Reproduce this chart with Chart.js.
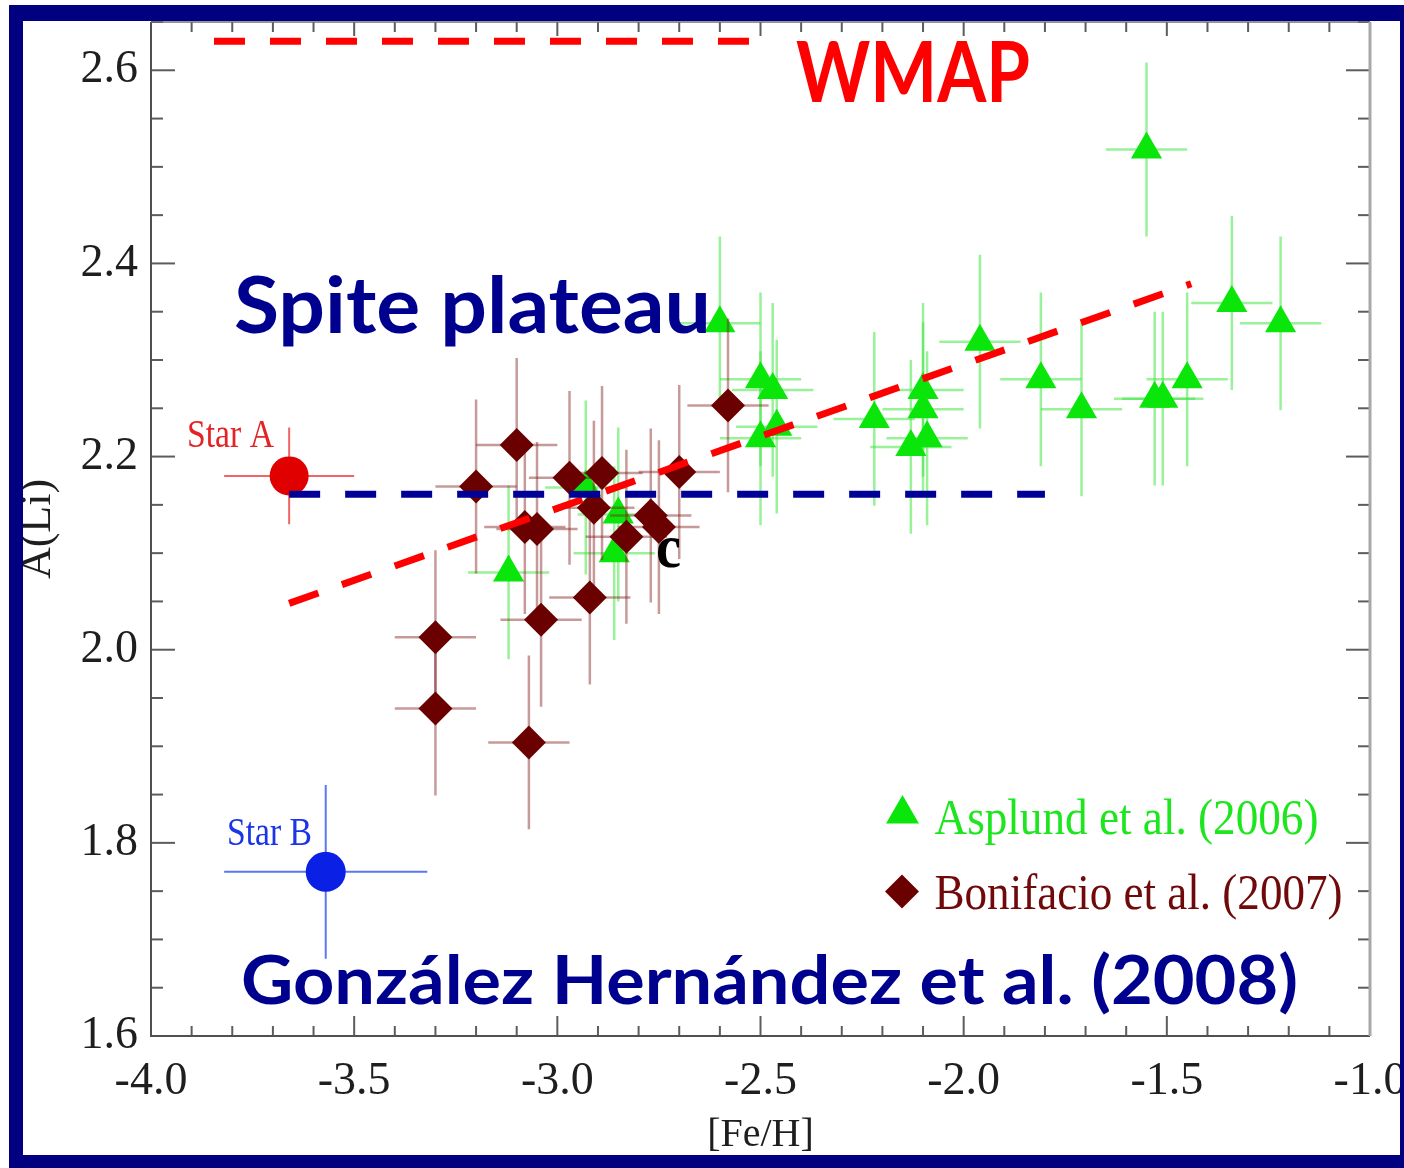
<!DOCTYPE html>
<html>
<head>
<meta charset="utf-8">
<title>A(Li) versus [Fe/H]</title>
<script src="https://cdn.jsdelivr.net/npm/chart.js@4.4.1/dist/chart.umd.min.js"></script>
<style>
  html, body { margin: 0; padding: 0; background: #ffffff; }
  canvas { display: block; }
</style>
</head>
<body>
<canvas id="chart" width="1404" height="1168"></canvas>
<script>
// ---- data -----------------------------------------------------------------
// Asplund et al. (2006)
const asplundFeH = [-3.12, -2.93, -2.85, -2.86, -2.60, -2.50, -2.47, -2.50, -2.46, -2.22,
                    -2.10, -2.10, -2.09, -2.13, -1.96, -1.81, -1.71, -1.55, -1.53, -1.51,
                    -1.45, -1.34, -1.22];
const asplundALi = [2.080, 2.168, 2.140, 2.100, 2.338, 2.280, 2.269, 2.219, 2.231, 2.239,
                    2.269, 2.249, 2.219, 2.210, 2.319, 2.280, 2.249, 2.518, 2.260, 2.260,
                    2.280, 2.359, 2.338];
const asplundErrFeH = [0.10, 0.10, 0.10, 0.10, 0.10, 0.10, 0.10, 0.10, 0.10, 0.10,
                       0.10, 0.10, 0.10, 0.10, 0.10, 0.10, 0.10, 0.10, 0.10, 0.10,
                       0.10, 0.10, 0.10];
const asplundErrALi = [0.09, 0.09, 0.09, 0.09, 0.09, 0.09, 0.09, 0.09, 0.09, 0.09,
                       0.09, 0.09, 0.09, 0.09, 0.09, 0.09, 0.09, 0.09, 0.09, 0.09,
                       0.09, 0.09, 0.09];

// Bonifacio et al. (2007)
const bonifacioFeH = [-3.30, -3.30, -3.20, -3.10, -3.08, -3.07, -3.05, -3.04, -2.97, -2.92,
                      -2.91, -2.89, -2.83, -2.77, -2.75, -2.70, -2.58];
const bonifacioALi = [2.013, 1.939, 2.169, 2.212, 2.127, 1.904, 2.125, 2.031, 2.178, 2.054,
                      2.147, 2.183, 2.117, 2.139, 2.127, 2.184, 2.253];
const bonifacioErrFeH = [0.10, 0.10, 0.10, 0.10, 0.10, 0.10, 0.10, 0.10, 0.10, 0.10,
                         0.10, 0.10, 0.10, 0.10, 0.10, 0.10, 0.10];
const bonifacioErrALi = [0.09, 0.09, 0.09, 0.09, 0.09, 0.09, 0.09, 0.09, 0.09, 0.09,
                         0.09, 0.09, 0.09, 0.09, 0.09, 0.09, 0.09];

// González Hernández et al. (2008): the two components
const starFeH = [-3.66, -3.57];
const starALi = [2.18, 1.77];
const starErrFeH = [0.16, 0.25];
const starErrALi = [0.05, 0.09];
const starNames = ['Star A', 'Star B'];

// reference levels
const wmapFeH = [-3.845, -2.524];
const wmapALi = [2.63, 2.63];
const plateauFeH = [-3.66, -1.80];
const plateauALi = [2.161, 2.161];
const trendFeH = [-3.66, -1.44];
const trendALi = [2.048, 2.379];

// axes
const xMajorTicks = [-4.0, -3.5, -3.0, -2.5, -2.0, -1.5, -1.0];
const xTickLabels = ['-4.0', '-3.5', '-3.0', '-2.5', '-2.0', '-1.5', '-1.0'];
const yMajorTicks = [1.6, 1.8, 2.0, 2.2, 2.4, 2.6];
const yTickLabels = ['1.6', '1.8', '2.0', '2.2', '2.4', '2.6'];
const xTitle = '[Fe/H]';
const yTitle = 'A(Li)';

// ---- helpers ----------------------------------------------------------------
const SERIF = "'Liberation Serif', 'Times New Roman', serif";
const HAND = "Lato, 'Open Sans', sans-serif";
const PAGE_W = 1404, PAGE_H = 1168;

const points = (xs, ys) => xs.map((x, i) => ({ x, y: ys[i] }));
const near = (a, b) => Math.abs(a - b) < 1e-6;
const labelFor = (majors, labels) => (v) => {
  const i = majors.findIndex(m => near(m, v));
  return i >= 0 ? labels[i] : '';
};
const isMajor = (majors, v) => majors.some(m => near(m, v));

// text squeezed/stretched horizontally to a given width, left/baseline anchored
function fitText(ctx, str, left, baseline, size, family, weight, color, width) {
  ctx.save();
  ctx.font = `${weight} ${size}px ${family}`;
  ctx.textAlign = 'left';
  ctx.textBaseline = 'alphabetic';
  const w = ctx.measureText(str).width;
  ctx.translate(left, baseline);
  ctx.scale(width / w, 1);
  ctx.fillStyle = color;
  ctx.fillText(str, 0, 0);
  ctx.restore();
}

function marker(ctx, style, x, y, r, color) {
  ctx.save();
  ctx.fillStyle = color;
  ctx.beginPath();
  if (style === 'triangle') {
    ctx.moveTo(x, y - r);
    ctx.lineTo(x + r * Math.sin(2 * Math.PI / 3), y + r / 2);
    ctx.lineTo(x - r * Math.sin(2 * Math.PI / 3), y + r / 2);
  } else {
    ctx.moveTo(x - r, y);
    ctx.lineTo(x, y - r);
    ctx.lineTo(x + r, y);
    ctx.lineTo(x, y + r);
  }
  ctx.closePath();
  ctx.fill();
  ctx.restore();
}

// ---- plugins ------------------------------------------------------------------
// crossed error bars, drawn under each dataset's own markers
const errorBars = {
  id: 'errorBars',
  beforeDatasetDraw(chart, args) {
    const ds = chart.data.datasets[args.index];
    if (!ds.errFeH) return;
    const { ctx, chartArea: a, scales: { x, y } } = chart;
    ctx.save();
    ctx.beginPath();
    ctx.rect(a.left, a.top, a.right - a.left, a.bottom - a.top);
    ctx.clip();
    ctx.strokeStyle = ds.errColor;
    ctx.lineWidth = ds.errWidth;
    ctx.lineCap = 'butt';
    ds.data.forEach((p, i) => {
      const px = x.getPixelForValue(p.x);
      const py = y.getPixelForValue(p.y);
      ctx.beginPath();
      ctx.moveTo(x.getPixelForValue(p.x - ds.errFeH[i]), py);
      ctx.lineTo(x.getPixelForValue(p.x + ds.errFeH[i]), py);
      ctx.moveTo(px, y.getPixelForValue(p.y + ds.errALi[i]));
      ctx.lineTo(px, y.getPixelForValue(p.y - ds.errALi[i]));
      ctx.stroke();
    });
    ctx.restore();
  }
};

// annotations and the legend box
const annotations = {
  id: 'annotations',
  afterDatasetsDraw(chart) {
    const { ctx } = chart;
    const ds = chart.data.datasets;
    fitText(ctx, 'WMAP', 796, 101.5, 84, HAND, 'bold', '#ff0000', 234);
    fitText(ctx, 'Spite plateau', 234, 333, 78, HAND, 'bold', '#00008f', 477);
    fitText(ctx, 'González Hernández et al. (2008)', 241, 1004, 66, HAND, 'bold', '#00008f', 1057);
    fitText(ctx, starNames[0], 187, 447, 41, SERIF, 'normal', '#e42424', 87);
    fitText(ctx, starNames[1], 227, 844.5, 40, SERIF, 'normal', '#1a34e6', 85);
    fitText(ctx, 'c', 656, 567, 62, SERIF, 'bold', '#000000', 25);

    const asp = ds.find(d => d.key === 'asplund');
    const bon = ds.find(d => d.key === 'bonifacio');
    marker(ctx, 'triangle', 902.5, 814, 19, asp.pointBackgroundColor);
    fitText(ctx, asp.label, 934.5, 833.5, 51, SERIF, 'normal', '#1ee61e', 384);
    marker(ctx, 'rectRot', 902, 891.5, 17, bon.pointBackgroundColor);
    fitText(ctx, bon.label, 934.5, 908.5, 51, SERIF, 'normal', '#700a0a', 408);
  }
};

// inward tick marks, the plot frame and the navy slide border
const frame = {
  id: 'frame',
  afterDraw(chart) {
    const { ctx, chartArea: a, scales: { x, y } } = chart;
    const seg = (x0, y0, x1, y1) => { ctx.beginPath(); ctx.moveTo(x0, y0); ctx.lineTo(x1, y1); ctx.stroke(); };
    ctx.save();
    ctx.lineCap = 'butt';
    ctx.strokeStyle = '#5c5c5c';
    ctx.lineWidth = 2;
    x.ticks.forEach(t => {
      const px = x.getPixelForValue(t.value);
      const major = isMajor(xMajorTicks, t.value);
      seg(px, a.bottom, px, a.bottom - (major ? 20 : 10));
      seg(px, a.top, px, a.top + (major ? 14 : 10));
    });
    y.ticks.forEach(t => {
      const py = y.getPixelForValue(t.value);
      const major = isMajor(yMajorTicks, t.value);
      seg(a.left, py, a.left + (major ? 24 : 12), py);
      seg(a.right, py, a.right - (major ? 24 : 12), py);
    });
    // plot frame
    ctx.strokeStyle = '#505050';
    ctx.lineWidth = 2;
    seg(a.left, a.top, a.left, a.bottom + 1);
    seg(a.left - 1, a.bottom, a.right, a.bottom);
    ctx.strokeStyle = '#707070';
    ctx.lineWidth = 1.5;
    seg(a.left, a.top, a.right, a.top);
    ctx.strokeStyle = '#a8a8a8';
    ctx.lineWidth = 3;
    seg(a.right, a.top, a.right, a.bottom);

    // slide border
    ctx.fillStyle = '#000080';
    ctx.fillRect(9, 5, PAGE_W - 9, 16);
    ctx.fillRect(9, 5, 14, PAGE_H - 5);
    ctx.fillRect(1400, 5, PAGE_W - 1400, PAGE_H - 5);
    ctx.fillRect(9, 1155, PAGE_W - 9, PAGE_H - 1155);
    ctx.restore();
  }
};

// ---- chart --------------------------------------------------------------------
const dashed = (label, xs, ys, color) => ({
  label,
  type: 'line',
  data: points(xs, ys),
  borderColor: color,
  borderWidth: 7,
  borderDash: [31, 25],
  borderCapStyle: 'butt',
  pointRadius: 0,
  fill: false,
  tension: 0,
  order: 0
});

new Chart(document.getElementById('chart'), {
  type: 'scatter',
  data: {
    datasets: [
      dashed('WMAP', wmapFeH, wmapALi, '#ff0000'),
      dashed('Spite plateau', plateauFeH, plateauALi, '#000096'),
      dashed('trend', trendFeH, trendALi, '#ff0000'),
      {
        label: starNames[0],
        data: points([starFeH[0]], [starALi[0]]),
        errFeH: [starErrFeH[0]], errALi: [starErrALi[0]],
        errColor: '#f06464', errWidth: 2,
        pointStyle: 'circle', pointRadius: 19.5,
        pointBackgroundColor: '#e00000', pointBorderWidth: 0,
        order: 1
      },
      {
        label: starNames[1],
        data: points([starFeH[1]], [starALi[1]]),
        errFeH: [starErrFeH[1]], errALi: [starErrALi[1]],
        errColor: '#5a78f0', errWidth: 2,
        pointStyle: 'circle', pointRadius: 20,
        pointBackgroundColor: '#0a20e4', pointBorderWidth: 0,
        order: 1
      },
      {
        key: 'bonifacio',
        label: 'Bonifacio et al. (2007)',
        data: points(bonifacioFeH, bonifacioALi),
        errFeH: bonifacioErrFeH, errALi: bonifacioErrALi,
        errColor: 'rgba(130, 30, 30, 0.45)', errWidth: 2.5,
        pointStyle: 'rectRot', pointRadius: 17,
        pointBackgroundColor: '#6b0000', pointBorderWidth: 0,
        order: 2
      },
      {
        key: 'asplund',
        label: 'Asplund et al. (2006)',
        data: points(asplundFeH, asplundALi),
        errFeH: asplundErrFeH, errALi: asplundErrALi,
        errColor: 'rgba(70, 230, 70, 0.55)', errWidth: 2.5,
        pointStyle: 'triangle', pointRadius: 18,
        pointBackgroundColor: '#0ae60a', pointBorderWidth: 0,
        order: 3
      }
    ]
  },
  options: {
    responsive: false,
    animation: false,
    devicePixelRatio: 1,
    events: [],
    layout: { padding: { left: 0, right: 34, top: 22, bottom: 0 } },
    plugins: { legend: { display: false }, tooltip: { enabled: false } },
    scales: {
      x: {
        type: 'linear', position: 'bottom', min: -4, max: -1,
        afterFit(s) { s.height = 132; s.paddingLeft = 0; s.paddingRight = 0; },
        grid: { display: false, drawTicks: false },
        border: { display: false },
        ticks: {
          stepSize: 0.1, autoSkip: false, maxRotation: 0, minRotation: 0,
          padding: 18, color: '#1e1e1e',
          font: { family: SERIF, size: 46 },
          callback: labelFor(xMajorTicks, xTickLabels)
        },
        title: {
          display: true, text: xTitle, color: '#1e1e1e',
          font: { family: SERIF, size: 40 },
          padding: { top: 0, bottom: 9 }
        }
      },
      y: {
        type: 'linear', position: 'left', min: 1.6, max: 2.65,
        afterFit(s) { s.width = 151; s.paddingTop = 0; s.paddingBottom = 0; },
        grid: { display: false, drawTicks: false },
        border: { display: false },
        ticks: {
          stepSize: 0.05, autoSkip: false,
          padding: 13, color: '#1e1e1e',
          font: { family: SERIF, size: 46 },
          callback: labelFor(yMajorTicks, yTickLabels)
        },
        title: {
          display: true, text: yTitle, color: '#1e1e1e',
          font: { family: SERIF, size: 44 },
          padding: { top: 12, bottom: 0 }
        }
      }
    }
  },
  plugins: [errorBars, annotations, frame]
});
</script>
</body>
</html>
